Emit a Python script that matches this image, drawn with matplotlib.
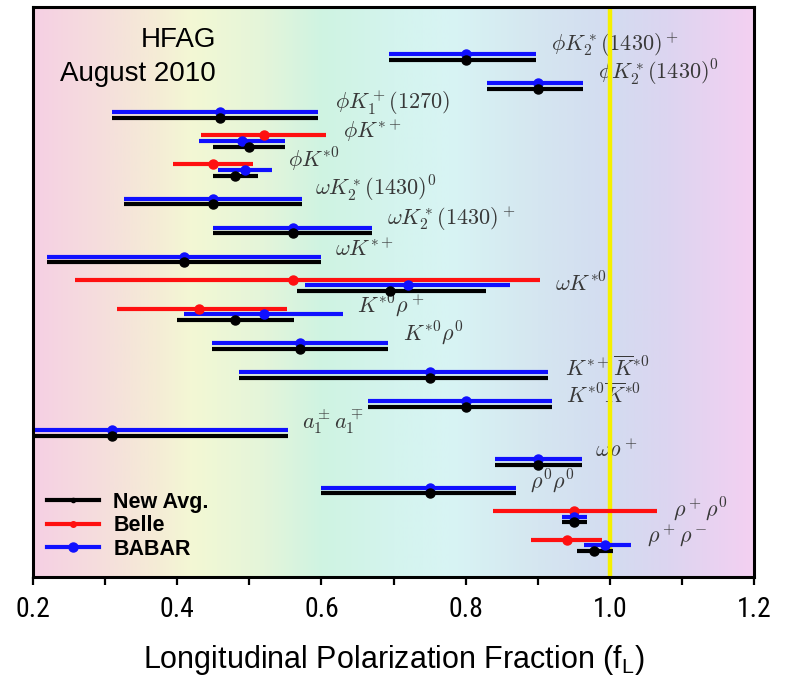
import numpy as np
import matplotlib
matplotlib.use('Agg')
import matplotlib.pyplot as plt
from matplotlib.colors import LinearSegmentedColormap
from matplotlib.lines import Line2D
from matplotlib import font_manager

# B -> VV longitudinal polarization fractions, top row first
modes = [r'$\phi K_2^*(1430)^+$', r'$\phi K_2^*(1430)^0$', r'$\phi K_1^+(1270)$',
         r'$\phi K^{*+}$', r'$\phi K^{*0}$', r'$\omega K_2^*(1430)^0$',
         r'$\omega K_2^*(1430)^+$', r'$\omega K^{*+}$', r'$\omega K^{*0}$',
         r'$K^{*0}\rho^+$', r'$K^{*0}\rho^0$', r'$K^{*+}\overline{K}^{*0}$',
         r'$K^{*0}\overline{K}^{*0}$', r'$a_1^\pm a_1^\mp$', r'$\omega\rho^+$',
         r'$\rho^0\rho^0$', r'$\rho^+\rho^0$', r'$\rho^+\rho^-$']

nan = np.nan
avg_val = [0.80, 0.901, 0.46, 0.50, 0.480, 0.45, 0.56, 0.41, 0.695, 0.48, 0.57, 0.75, 0.80, 0.31, 0.90, 0.75, 0.950, 0.978]
avg_lo  = [0.106, 0.071, 0.15, 0.05, 0.030, 0.124, 0.11, 0.19, 0.129, 0.08, 0.122, 0.264, 0.135, 0.26, 0.059, 0.15, 0.016, 0.023]
avg_hi  = [0.098, 0.062, 0.135, 0.05, 0.032, 0.123, 0.11, 0.19, 0.133, 0.082, 0.122, 0.164, 0.12, 0.244, 0.061, 0.12, 0.018, 0.026]

babar_val = [0.80, 0.901, 0.46, 0.49, 0.494, 0.45, 0.56, 0.41, 0.72, 0.52, 0.57, 0.75, 0.80, 0.31, 0.90, 0.75, 0.950, 0.993]
babar_lo  = [0.106, 0.071, 0.15, 0.06, 0.037, 0.124, 0.11, 0.19, 0.143, 0.111, 0.122, 0.264, 0.135, 0.26, 0.059, 0.15, 0.016, 0.029]
babar_hi  = [0.098, 0.062, 0.135, 0.059, 0.037, 0.123, 0.11, 0.19, 0.141, 0.110, 0.122, 0.164, 0.12, 0.244, 0.061, 0.12, 0.018, 0.036]

belle_val = [nan, nan, nan, 0.52, 0.45, nan, nan, nan, 0.56, 0.43, nan, nan, nan, nan, nan, nan, 0.95, 0.941]
belle_lo  = [nan, nan, nan, 0.087, 0.056, nan, nan, nan, 0.302, 0.113, nan, nan, nan, nan, nan, nan, 0.112, 0.05]
belle_hi  = [nan, nan, nan, 0.086, 0.055, nan, nan, nan, 0.343, 0.122, nan, nan, nan, nan, nan, nan, 0.115, 0.048]

# where each mode name sits: x in fL units, y offset from its row
label_x  = [0.918, 0.984, 0.619, 0.630, 0.554, 0.591, 0.691, 0.619, 0.924, 0.649, 0.713, 0.938, 0.939, 0.573, 0.979, 0.889, 1.088, 1.052]
label_dy = [-0.52, -0.55, -0.52, -0.55, -0.55, -0.55, -0.52, -0.48, -0.28, -0.52, -0.55, -0.35, -0.42, -0.48, -0.52, -0.42, -0.45, -0.55]

rows = np.arange(len(modes))

# narrow sans for the tick numbers if one is around
installed = {f.name for f in font_manager.fontManager.ttflist}
narrow = next((n for n in ['Liberation Sans Narrow', 'DejaVu Sans Condensed',
                           'Roboto Condensed', 'Open Sans Condensed'] if n in installed), None)
tick_font, tick_size = (narrow, 20) if narrow else ('Liberation Sans', 18)

fig = plt.figure(figsize=(7.87, 6.80), dpi=100)
ax = fig.add_axes([0.0419, 0.1515, 0.9162, 0.8382])
ax.set_xlim(0.2, 1.2)
ax.set_ylim(17.89, -1.834)

# rainbow-ish background
bg = LinearSegmentedColormap.from_list('bg', [
    (0.00, '#f6d0e4'), (0.10, '#f5dfdc'), (0.17, '#f5ecd6'), (0.22, '#f3f8d4'),
    (0.32, '#e4f5da'), (0.40, '#cff3e2'), (0.50, '#d4f4ee'), (0.58, '#d8f4f4'),
    (0.70, '#d5e6f0'), (0.80, '#d3dcf0'), (0.88, '#dcd5f0'), (1.00, '#f4d0f2')])
ax.imshow(np.linspace(0, 1, 256)[None, :], cmap=bg, aspect='auto',
          extent=[0.2, 1.2, 17.89, -1.834], zorder=0, interpolation='bilinear')

ax.axvline(1.0, color='#f5f000', lw=3.2, zorder=2.5)

def draw(vals, lo, hi, dy, color, ms):
    vals = np.array(vals); lo = np.array(lo); hi = np.array(hi)
    ok = ~np.isnan(vals)
    ax.errorbar(vals[ok], rows[ok] + dy, xerr=[lo[ok], hi[ok]], fmt='o', color=color,
                ecolor=color, elinewidth=3, capsize=0, ms=ms, zorder=3)

draw(belle_val, belle_lo, belle_hi, -0.40, '#ff1010', 6.5)
draw(babar_val, babar_lo, babar_hi, -0.20, '#1010ff', 6.5)
draw(avg_val, avg_lo, avg_hi, 0.0, 'black', 6.5)

for i, name in enumerate(modes):
    ax.text(label_x[i], rows[i] + label_dy[i], name, fontsize=16, color='#383838',
            va='center', ha='left', math_fontfamily='cm', zorder=2)

ax.text(0.2535, 0.942, 'HFAG', transform=ax.transAxes, ha='right', va='center',
        fontsize=20, family='Liberation Sans')
ax.text(0.2535, 0.882, 'August 2010', transform=ax.transAxes, ha='right', va='center',
        fontsize=20, family='Liberation Sans')

handles = [Line2D([], [], color='black', lw=3, marker='o', ms=3),
           Line2D([], [], color='#ff1010', lw=3, marker='o', ms=4),
           Line2D([], [], color='#1010ff', lw=3, marker='o', ms=6.5)]
ax.legend(handles, ['New Avg.', 'Belle', 'BABAR'], loc='lower left',
          bbox_to_anchor=(0.019, 0.03), frameon=False, borderpad=0, borderaxespad=0,
          handlelength=2.45, handletextpad=0.65, labelspacing=0.12,
          prop={'family': 'Liberation Sans', 'weight': 'bold', 'size': 15.5})

for s in ax.spines.values():
    s.set_linewidth(2.2)
    s.set_zorder(4)
ax.set_yticks([])
ax.set_xticks(np.arange(0.2, 1.21, 0.2))
ax.set_xticks(np.arange(0.3, 1.2, 0.2), minor=True)
ax.tick_params(axis='x', which='both', direction='out', length=6, width=1.6, pad=8)
for t in ax.get_xticklabels():
    t.set_family(tick_font)
    t.set_fontsize(tick_size)
ax.set_xlabel(r'Longitudinal Polarization Fraction (f$_\mathregular{L}$)',
              family='Liberation Sans', fontsize=22, labelpad=14)

fig.savefig('out.png', dpi=100)
